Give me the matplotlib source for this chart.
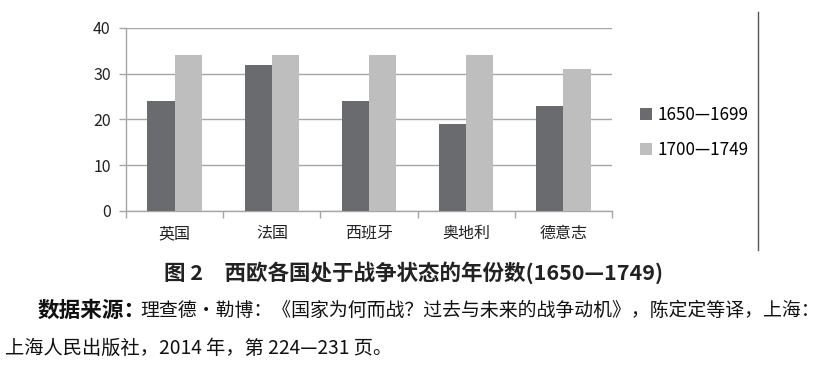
"""
图2 西欧各国处于战争状态的年份数 (1650—1749)
"""
import matplotlib
matplotlib.use("Agg")
import matplotlib.pyplot as plt
from matplotlib.lines import Line2D
import numpy as np

plt.rcParams["font.family"] = ["Noto Sans CJK SC", "DejaVu Sans"]

# 数据
countries = ["英国", "法国", "西班牙", "奥地利", "德意志"]
years_1650_1699 = [24, 32, 24, 19, 23]
years_1700_1749 = [34, 34, 34, 34, 31]
series_labels = ["1650—1699", "1700—1749"]
y_ticks = [0, 10, 20, 30, 40]

DARK = "#6a6b6f"
LIGHT = "#bebebf"
GRID = "#a6a6a6"
W, H = 828, 365

fig = plt.figure(figsize=(W / 100, H / 100), dpi=100)
fig.patch.set_facecolor("white")
ax = fig.add_axes([126 / W, 1 - 211 / H, 486 / W, 183 / H])

x = np.arange(len(countries))
w = 0.28
b1 = ax.bar(x - w / 2, years_1650_1699, width=w, color=DARK, label=series_labels[0], zorder=3)
b2 = ax.bar(x + w / 2, years_1700_1749, width=w, color=LIGHT, label=series_labels[1], zorder=3)

ax.set_xlim(-0.5, len(countries) - 0.5)
ax.set_ylim(0, 40)
ax.set_yticks(y_ticks)
ax.set_yticklabels([str(t) for t in y_ticks], fontsize=11.5, color="#222222")
ax.grid(axis="y", color=GRID, linewidth=1.0, zorder=0)

# 类别标签 + 分隔刻度
ax.set_xticks(x)
ax.set_xticklabels(countries, fontsize=11.5, color="#222222")
ax.tick_params(axis="x", length=0, pad=10)
ax.set_xticks(np.arange(-0.5, len(countries)), minor=True)
ax.tick_params(axis="x", which="minor", length=5, color=GRID, width=1)
ax.tick_params(axis="y", length=5, color=GRID, width=1, pad=6)

for side in ["top", "right"]:
    ax.spines[side].set_visible(False)
for side in ["left", "bottom"]:
    ax.spines[side].set_color(GRID)
    ax.spines[side].set_linewidth(1.0)

fig.legend(handles=[b1, b2], loc="center left", bbox_to_anchor=(0.759, 0.636),
           frameon=False, fontsize=12.3, handlelength=0.7, handleheight=0.7,
           handletextpad=0.3, labelspacing=1.0, borderpad=0.2)

# 右侧竖线
fig.add_artist(Line2D([758 / W, 758 / W], [1 - 12 / H, 1 - 250 / H],
                      color="#555555", linewidth=1.0))

# 图题与资料来源
fig.text(414 / W, 1 - 273 / H, "图 2　西欧各国处于战争状态的年份数(1650—1749)",
         ha="center", va="center", fontsize=15.5, fontweight="bold", color="#222222")

renderer = fig.canvas.get_renderer()


def fit_text(x0, x1, y, s, fs, **kw):
    """放一行文字并按像素宽度调整字号"""
    t = fig.text(x0 / W, 1 - y / H, s, ha="left", va="center", fontsize=fs,
                 color="#111111", **kw)
    width = t.get_window_extent(renderer).width
    t.set_fontsize(fs * (x1 - x0) / width)
    return t


fit_text(38, 146, 310, "数据来源：", 13.5, fontweight="bold")
fit_text(140, 820, 310,
         "理查德·勒博：《国家为何而战？过去与未来的战争动机》，陈定定等译，上海：", 13.5)
fit_text(5, 392, 348, "上海人民出版社，2014 年，第 224—231 页。", 13.5)

fig.savefig("out.png", dpi=100)
plt.close(fig)
